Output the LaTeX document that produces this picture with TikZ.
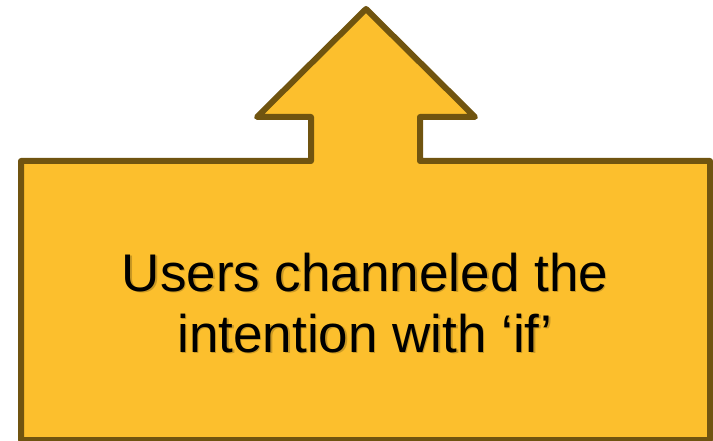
\documentclass[tikz,border=0pt]{standalone}
\usepackage{fontspec}
\setmainfont{Liberation Sans}
\definecolor{calloutfill}{RGB}{252,191,45}
\definecolor{calloutline}{RGB}{112,84,16}
\begin{document}
\begin{tikzpicture}[x=1pt,y=-1pt,
  callout/.style={fill=calloutfill,draw=calloutline,line width=6pt,line join=round},
  label/.style={font=\fontsize{53}{61}\selectfont,align=center,inner sep=0pt}]
\useasboundingbox (0,0) rectangle (713,441);
% up-arrow callout outline
\path[callout] (21,161) -- (311,161) -- (311,117) -- (257,117) -- (366,9)
  -- (475,117) -- (420,117) -- (420,161) -- (710,161) -- (710,440)
  -- (21,440) -- cycle;
% text with a soft drop shadow
\node[label,text=black,opacity=0.2] at (366.5,304.5) {Users channeled the\\intention with ‘if’};
\node[label,text=black] (msg) at (365,303) {Users channeled the\\intention with ‘if’};
\end{tikzpicture}
\end{document}
